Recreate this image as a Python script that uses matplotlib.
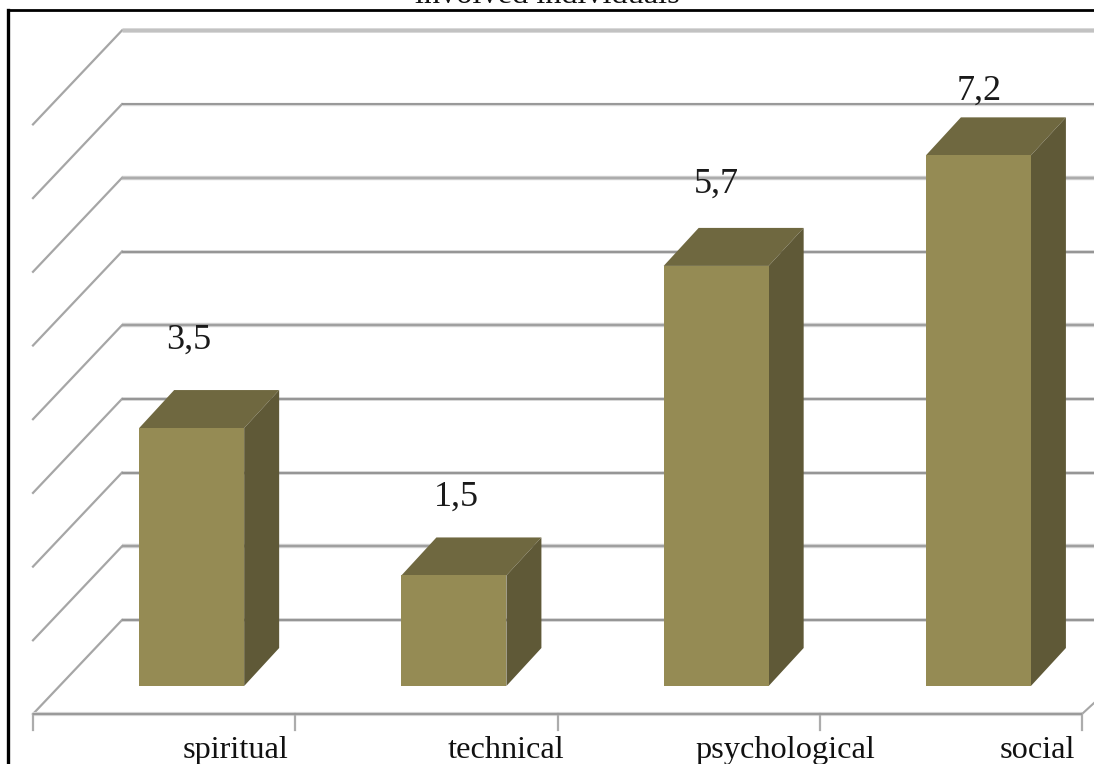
#!/usr/bin/env python3
import matplotlib
matplotlib.use("Agg")
import matplotlib.pyplot as plt
from matplotlib.patches import Polygon

categories = ["spiritual", "technical", "psychological", "social"]
values = [3.5, 1.5, 5.7, 7.2]
value_labels = ["3,5", "1,5", "5,7", "7,2"]
grid_values = [0, 1, 2, 3, 4, 5, 6, 7, 8]
title = "involved individuals"

W, H = 1094, 764
PX_X = 262.25   # pixels per category
PX_Y = 73.7     # pixels per value unit
X0 = 33         # left end of the floor
Y0 = 686        # pixel row of value 0 on the bar fronts

# hand placed text, in pixels
value_label_lift = [88, 78, 82, 64]
value_label_px = [189, 456, 716, 979]
category_label_px = [236, 506, 785, 1037]


def dx(px):
    return px / PX_X


def dy(px):
    return px / PX_Y


fig = plt.figure(figsize=(W / 100, H / 100), dpi=100)
ax = fig.add_axes([0, 0, 1, 1])
ax.set_xlim(-X0 / PX_X, (W - X0) / PX_X)
ax.set_ylim((Y0 - H) / PX_Y, Y0 / PX_Y)
ax.axis("off")

# wall depth and bar depth, in data units
wall_x, wall_y = dx(89), dy(66)
floor_y = dy(-28)
bar_w = dx(105)
bar_off = 0.105
depth_x, depth_y = dx(35), dy(38)
right = (W - X0) / PX_X

# halo width, halo colour, core width, core colour (pixels), bottom line first
grid_styles = [
    (4.0, "#d8d8d8", 2.0, "#969696"),
    (4.4, "#d4d4d4", 2.2, "#a0a0a0"),
    (4.0, "#d8d8d8", 2.0, "#969696"),
    (4.0, "#d8d8d8", 2.0, "#969696"),
    (4.4, "#d4d4d4", 2.2, "#a0a0a0"),
    (4.0, "#d8d8d8", 2.0, "#969696"),
    (4.4, "#d4d4d4", 2.4, "#acacac"),
    (3.4, "#d8d8d8", 1.8, "#929292"),
    (5.0, "#dedede", 3.4, "#c2c2c2"),
]
for v, (w1, c1, w2, c2) in zip(grid_values, grid_styles):
    ax.plot([wall_x, right], [v + wall_y, v + wall_y], color=c1, lw=w1 * 0.72, zorder=1, solid_capstyle="butt")
    ax.plot([wall_x, right], [v + wall_y, v + wall_y], color=c2, lw=w2 * 0.72, zorder=1.1, solid_capstyle="butt")
    ax.plot([0, wall_x], [v + floor_y, v + wall_y], color="#a6a6a6", lw=1.6, zorder=1)

# floor front edge with ticks
ax.plot([0, len(categories)], [floor_y, floor_y], color="#d4d4d4", lw=3.0, zorder=1, solid_capstyle="butt")
ax.plot([0, len(categories)], [floor_y, floor_y], color="#999999", lw=1.4, zorder=1.1, solid_capstyle="butt")
ax.plot([len(categories), right], [floor_y, floor_y + dy(11)], color="#a6a6a6", lw=1.5, zorder=1)
for i in range(len(categories) + 1):
    ax.plot([i, i], [floor_y, floor_y - dy(16)], color="#acacac", lw=1.6, zorder=1)

for i, (val, lab) in enumerate(zip(values, value_labels)):
    left = i + 0.5 + bar_off - bar_w / 2
    rgt = left + bar_w
    ax.add_patch(Polygon([(left, val), (rgt, val), (rgt + depth_x, val + depth_y), (left + depth_x, val + depth_y)],
                         closed=True, fc="#6f6840", ec="none", zorder=3))
    ax.add_patch(Polygon([(rgt, 0), (rgt + depth_x, depth_y), (rgt + depth_x, val + depth_y), (rgt, val)],
                         closed=True, fc="#5f5937", ec="none", zorder=3))
    ax.bar(left, val, width=bar_w, align="edge", color="#958b54", zorder=4)
    ax.text(dx(value_label_px[i] - X0), val + dy(value_label_lift[i]), lab, ha="center", va="center",
            family="Liberation Serif", fontsize=26, color="#1a1a1a", zorder=5)

for px, cat in zip(category_label_px, categories):
    ax.text(dx(px - X0), dy(Y0 - 758), cat, ha="center", va="baseline", family="Liberation Serif", fontsize=23.3,
            color="#111111", zorder=5)

# title sits above the crop, only its lower part shows
ax.text(dx(547 - X0), dy(Y0 - 3), title, ha="center", va="baseline", family="Liberation Serif", fontsize=23.3,
        color="#111111", zorder=5)

# frame, only left and top show up
ax.plot([dx(8 - X0), dx(8 - X0)], [dy(Y0 - 10), (Y0 - H) / PX_Y], color="black", lw=2.4, zorder=6)
ax.plot([dx(8 - X0), right], [dy(Y0 - 10), dy(Y0 - 10)], color="black", lw=2.0, zorder=6)

fig.savefig("out.png", dpi=100)
